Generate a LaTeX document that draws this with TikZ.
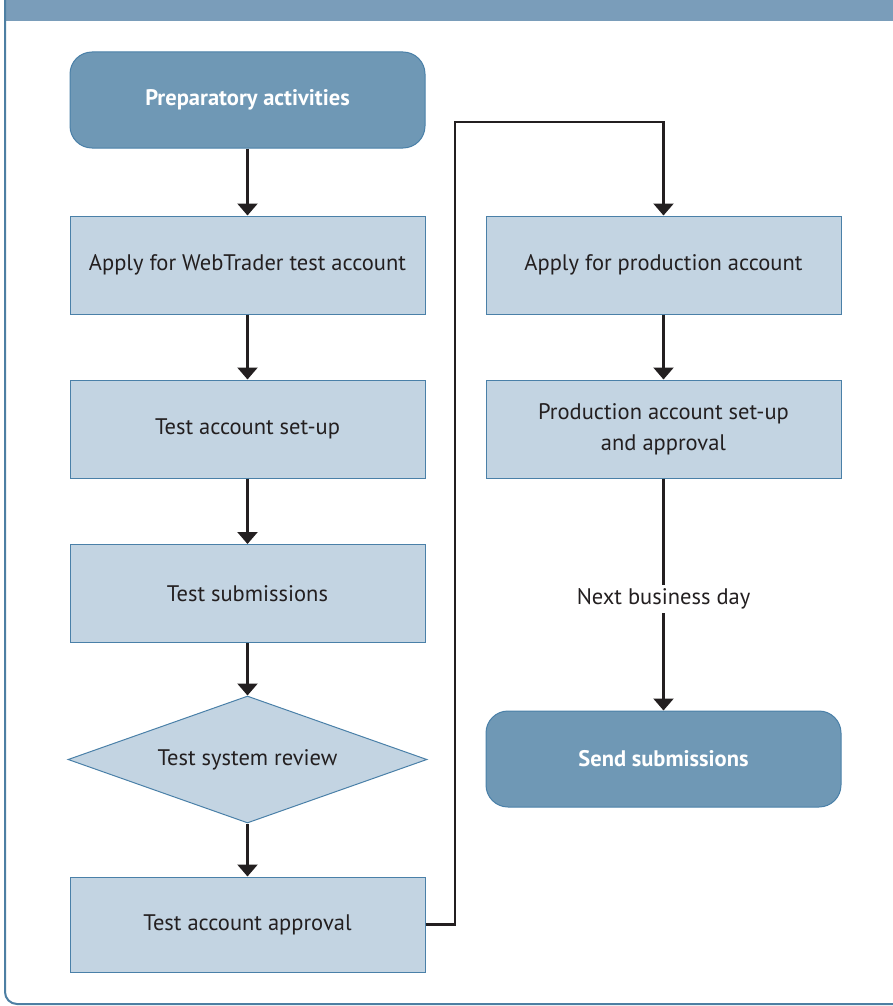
\documentclass[tikz,border=0pt]{standalone}
\usepackage{fontspec}
\setmainfont{PT Sans}
\usetikzlibrary{arrows.meta,shapes.geometric}
\definecolor{headblue}{HTML}{7A9DBA}
\definecolor{framblue}{HTML}{4D7FA3}
\definecolor{darkfill}{HTML}{6F98B5}
\definecolor{lightfill}{HTML}{C3D4E2}
\definecolor{edgeblue}{HTML}{4A80A8}
\definecolor{inkgrey}{HTML}{231F20}
\begin{document}
\begin{tikzpicture}[x=1pt,y=-1pt]
        \tikzset{endbox/.style = {shape=rectangle,rounded corners=22pt,draw=edgeblue,fill=darkfill,line width=1pt,minimum width=355pt,minimum height=96pt,text=white,font=\fontsize{22.5}{26}\selectfont\bfseries}}
        \tikzset{stepbox/.style = {shape=rectangle,draw=edgeblue,fill=lightfill,line width=1pt,minimum width=355pt,minimum height=98pt,text=inkgrey,align=center,font=\fontsize{22.5}{31}\selectfont}}
        \tikzset{decbox/.style = {shape=diamond,aspect=2.83,draw=edgeblue,fill=lightfill,line width=1pt,inner sep=0pt,minimum width=359pt,minimum height=127pt,text=inkgrey,font=\fontsize{22.5}{26}\selectfont}}
        \tikzset{edge/.style = {draw=inkgrey,line width=2.4pt,-{Triangle[width=20pt,length=12pt]}}}
        \useasboundingbox (0,0) rectangle (893,1006);
        % frame and title band
        \fill[headblue] (5,0) rectangle (893,21);
        \draw[framblue,line width=2pt,rounded corners=12pt] (5,0) -- (5,1004) -- (900,1004);
        % left column
        \node[endbox] (prep) at (247.5,100) {Preparatory activities};
        \node[stepbox] (apply) at (247.5,265) {Apply for WebTrader test account};
        \node[stepbox] (setup) at (247.5,429) {Test account set-up};
        \node[stepbox] (subm) at (247.5,593.5) {Test submissions};
        \node[decbox] (review) at (247.5,759.5) {Test system review};
        \node[stepbox,minimum height=95pt] (approve) at (247.5,924.5) {Test account approval};
        % right column
        \node[stepbox] (prod) at (663.5,265) {Apply for production account};
        \node[stepbox] (prodok) at (663.5,429) {Production account set-up\\and approval};
        \node[endbox] (send) at (663.5,759) {Send submissions};
        % connectors
        \draw[edge] (prep) -- (apply);
        \draw[edge] (apply) -- (setup);
        \draw[edge] (setup) -- (subm);
        \draw[edge] (subm) -- (review);
        \draw[edge] (review) -- (approve);
        \draw[edge] (approve.east) -- (455,924.5) -- (455,122) -| (prod.north);
        \draw[edge] (prod) -- (prodok);
        \draw[edge] (prodok) -- node[pos=0.52,fill=white,text=inkgrey,font=\fontsize{22.5}{26}\selectfont,inner sep=4pt] (nextday) {Next business day} (send);
\end{tikzpicture}
\end{document}
